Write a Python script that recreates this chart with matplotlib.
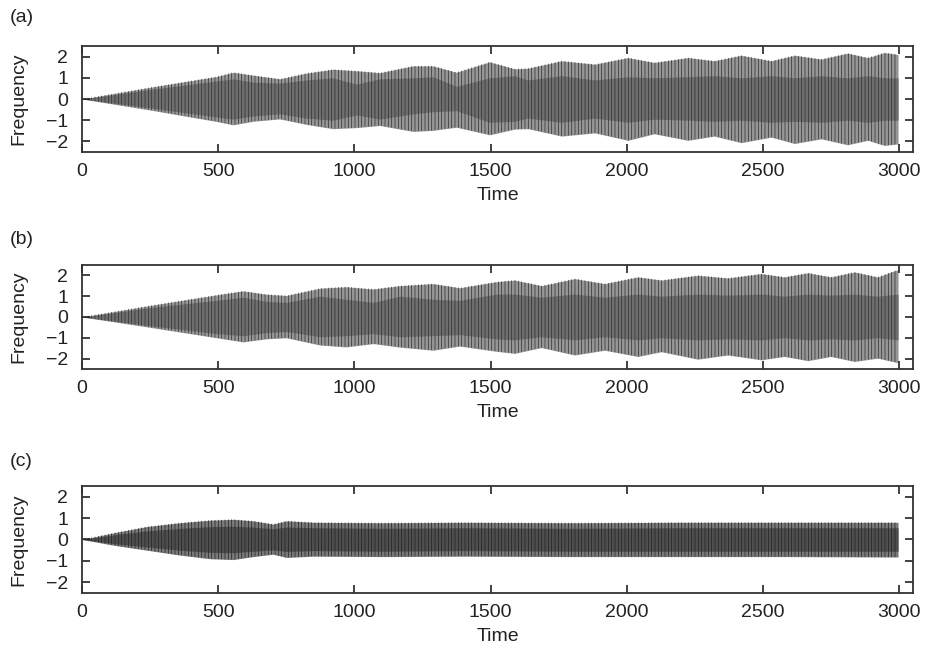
import matplotlib
matplotlib.use('Agg')
import matplotlib.pyplot as plt

plt.rcParams['font.family'] = ['Liberation Sans', 'DejaVu Sans']
plt.rcParams['hatch.linewidth'] = 0.5

# envelope of each signal (time, upper, lower)
a_time = [0, 250, 494, 555, 628, 726, 824, 921, 1007, 1093, 1215, 1288, 1374, 1496,
          1588, 1637, 1760, 1882, 2004, 2100, 2224, 2321, 2419, 2530, 2615, 2713,
          2810, 2884, 2945, 2995]
a_upper = [0, 0.55, 1.06, 1.26, 1.12, 0.95, 1.22, 1.40, 1.33, 1.24, 1.56, 1.56, 1.26, 1.75,
           1.42, 1.45, 1.80, 1.64, 1.95, 1.72, 1.95, 1.80, 2.06, 1.80, 2.06, 1.88,
           2.16, 1.95, 2.19, 2.10]
a_lower = [0, -0.52, -1.06, -1.22, -1.05, -0.94, -1.20, -1.40, -1.35, -1.25, -1.53, -1.48, -1.33, -1.69,
           -1.42, -1.40, -1.75, -1.60, -1.95, -1.64, -1.95, -1.75, -2.06, -1.80, -2.10, -1.88,
           -2.16, -1.95, -2.19, -2.12]
a_in_upper = [0, 0.45, 0.85, 0.95, 0.80, 0.75, 0.90, 1.00, 0.70, 0.95, 1.00, 1.05, 0.60, 1.00,
              1.10, 0.90, 1.10, 0.90, 1.05, 1.00, 1.05, 1.10, 1.00, 1.10, 1.00, 1.10,
              1.00, 1.10, 1.00, 1.00]
a_in_lower = [0, -0.42, -0.85, -0.95, -0.80, -0.70, -0.90, -1.00, -0.75, -0.95, -0.70, -0.60, -0.55, -1.10,
              -1.05, -0.90, -1.10, -0.90, -1.10, -0.95, -1.00, -1.05, -1.00, -1.10, -1.05, -1.10,
              -1.00, -1.10, -1.00, -1.00]

b_time = [0, 250, 494, 591, 677, 750, 873, 970, 1069, 1166, 1288, 1386, 1520, 1588,
          1686, 1808, 1918, 2040, 2126, 2260, 2370, 2493, 2578, 2664, 2749, 2835, 2920, 2995]
b_upper = [0, 0.55, 1.06, 1.25, 1.09, 1.03, 1.38, 1.45, 1.34, 1.50, 1.60, 1.40, 1.69, 1.77,
           1.50, 1.84, 1.60, 1.92, 1.77, 2.00, 1.87, 2.08, 1.92, 2.12, 1.92, 2.16, 1.92, 2.28]
b_lower = [0, -0.50, -1.00, -1.20, -1.05, -1.00, -1.35, -1.44, -1.28, -1.45, -1.60, -1.40, -1.65, -1.75,
           -1.47, -1.83, -1.60, -1.90, -1.67, -2.03, -1.83, -2.06, -1.90, -2.10, -1.90, -2.14, -1.98, -2.20]
b_in_upper = [0, 0.45, 0.80, 0.95, 0.75, 0.70, 1.00, 0.85, 0.70, 1.00, 0.85, 0.80, 1.10, 1.10,
              0.95, 1.10, 0.95, 1.10, 1.00, 1.10, 1.05, 1.10, 1.00, 1.10, 1.05, 1.10, 1.00, 1.10]
b_in_lower = [0, -0.42, -0.80, -0.90, -0.75, -0.70, -0.95, -0.90, -0.80, -0.95, -0.90, -0.85, -1.05, -1.10,
              -0.95, -1.10, -0.95, -1.10, -1.00, -1.10, -1.05, -1.10, -1.00, -1.10, -1.05, -1.10, -1.00, -1.10]

c_time = [0, 120, 237, 359, 470, 555, 628, 701, 750, 850, 1100, 1400, 1800, 2200, 2600, 2995]
c_upper = [0, 0.32, 0.60, 0.78, 0.90, 0.94, 0.87, 0.72, 0.87, 0.80, 0.78, 0.80, 0.78, 0.80, 0.80, 0.80]
c_lower = [0, -0.28, -0.50, -0.73, -0.90, -0.94, -0.80, -0.69, -0.84, -0.78, -0.80, -0.78, -0.80, -0.80, -0.80, -0.82]
c_in_upper = [0, 0.22, 0.40, 0.52, 0.60, 0.62, 0.58, 0.50, 0.58, 0.55, 0.52, 0.55, 0.52, 0.55, 0.55, 0.55]
c_in_lower = [0, -0.20, -0.35, -0.50, -0.60, -0.62, -0.55, -0.48, -0.56, -0.52, -0.55, -0.52, -0.55, -0.55, -0.55, -0.55]

xticks = [0, 500, 1000, 1500, 2000, 2500, 3000]
yticks = [-2, -1, 0, 1, 2]
panel_labels = ['(a)', '(b)', '(c)']

fig = plt.figure(figsize=(9.27, 6.51), dpi=100)
fig.patch.set_facecolor('white')

# axes boxes in figure fractions: left, bottom, width, height
boxes = [[0.0885, 0.7665, 0.8964, 0.1628],
         [0.0885, 0.4332, 0.8964, 0.1598],
         [0.0885, 0.0891, 0.8964, 0.1644]]
label_y = [1 - 18 / 651, 1 - 240 / 651, 1 - 461 / 651]

series = [(a_time, a_upper, a_lower, a_in_upper, a_in_lower),
          (b_time, b_upper, b_lower, b_in_upper, b_in_lower),
          (c_time, c_upper, c_lower, c_in_upper, c_in_lower)]

fs = 14
for i in range(3):
    t, up, lo, iup, ilo = series[i]
    ax = fig.add_axes(boxes[i])
    if i == 2:
        outer_col, inner_col, stripe_col = '#7a7a7a', '#4e4e4e', '#222222'
    else:
        outer_col, inner_col, stripe_col = '#969696', '#6e6e6e', '#303030'
    ax.fill_between(t, lo, up, color=outer_col, lw=0)
    ax.fill_between(t, ilo, iup, color=inner_col, lw=0)
    # vertical stripes of the fast oscillation
    ax.fill_between(t, lo, up, facecolor='none', edgecolor=stripe_col, lw=0, hatch='|||||')

    ax.set_xlim(0, 3050)
    ax.set_ylim(-2.5, 2.5)
    ax.set_xticks(xticks)
    ax.set_yticks(yticks)
    ax.tick_params(direction='in', length=6, width=1.2, top=True, right=True,
                   labelsize=fs, colors='#222222')
    ax.tick_params(axis='x', pad=8)
    ax.tick_params(axis='y', pad=10)
    for s in ax.spines.values():
        s.set_linewidth(1.3)
        s.set_color('#333333')
    ax.set_xlabel('Time', fontsize=fs, labelpad=5, color='#222222')
    ax.set_ylabel('Frequency', fontsize=fs, color='#222222')
    ax.yaxis.set_label_coords(-0.066, 0.5)
    fig.text(0.011, label_y[i], panel_labels[i], fontsize=fs, va='center', ha='left',
             color='#222222')

fig.savefig('out.png', dpi=100, facecolor=fig.get_facecolor())
